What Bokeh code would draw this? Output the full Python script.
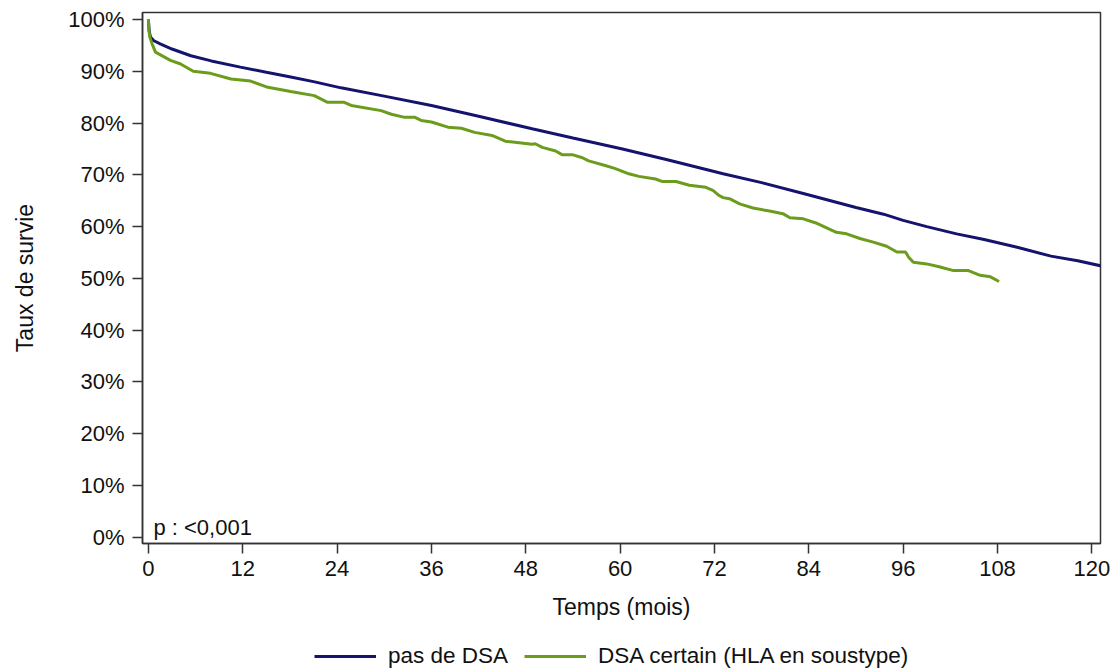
from bokeh.plotting import figure
from bokeh.layouts import column
from bokeh.models import Range1d, FixedTicker, PrintfTickFormatter, Legend, LegendItem, Label
from bokeh.embed import file_html
from bokeh.resources import INLINE

# Survival data (months, %)
blue_t = [0, 0.1, 0.26, 0.7, 1.5, 3, 5.4, 8, 11.7, 15, 18.1, 21, 24.5, 30, 36, 42, 48.8, 54, 60.3, 66, 73.1,
          78, 83.3, 90, 93.5, 96, 99, 102.8, 106.3, 110.5, 114.8, 118.2, 121.2]
blue_s = [100, 97.8, 96.6, 95.9, 95.3, 94.3, 93.0, 92.0, 90.8, 89.8, 88.9, 88.0, 86.8, 85.2, 83.4, 81.3, 78.9, 77.1, 75.0, 72.9, 70.2,
          68.5, 66.4, 63.7, 62.4, 61.2, 60.0, 58.6, 57.5, 56.0, 54.3, 53.4, 52.4]

green_t = [0, 0.05, 0.2, 0.47, 0.9, 2.8, 4.1, 5.7, 7.9, 10.5, 13.0, 15.2, 18.1, 21.1, 22.8, 24.9, 25.8, 29.6, 30.9,
           32.6, 33.9, 34.7, 36.0, 38.1, 39.8, 41.5, 43.7, 45.4, 46.6, 48.8, 49.2, 50.1, 51.8, 52.6, 53.9, 55.2,
           56.0, 58.1, 59.4, 61.1, 62.4, 64.5, 65.4, 67.1, 68.8, 70.9, 71.8, 72.6, 73.1, 73.9, 75.2, 76.9, 79.0,
           80.7, 81.6, 83.3, 84.9, 86.2, 87.5, 88.8, 90.5, 92.2, 93.9, 95.2, 96.3, 96.7, 97.3, 99.0, 100.7,
           102.4, 104.3, 105.8, 107.1, 108.2]
green_s = [100, 98.0, 96.5, 95.3, 93.7, 92.1, 91.4, 90.0, 89.6, 88.5, 88.1, 86.9, 86.1, 85.3, 84.0, 84.0, 83.4, 82.4, 81.7,
           81.1, 81.1, 80.5, 80.2, 79.2, 79.0, 78.2, 77.6, 76.5, 76.3, 75.9, 76.0, 75.3, 74.6, 73.9, 73.9, 73.3,
           72.7, 71.8, 71.2, 70.2, 69.7, 69.2, 68.7, 68.7, 68.0, 67.6, 67.0, 66.0, 65.6, 65.4, 64.4, 63.6, 63.0,
           62.5, 61.7, 61.5, 60.7, 59.8, 58.9, 58.6, 57.7, 57.0, 56.2, 55.1, 55.1, 54.1, 53.1, 52.8, 52.2,
           51.5, 51.5, 50.6, 50.3, 49.4]

x_ticks = [0, 12, 24, 36, 48, 60, 72, 84, 96, 108, 120]
y_ticks = [0, 10, 20, 30, 40, 50, 60, 70, 80, 90, 100]
series_names = ["pas de DSA", "DSA certain (HLA en soustype)"]
p_text = "p : <0,001"

FONT = "Liberation Sans"
BLUE = "#14146e"
GREEN = "#6c9c1c"
TXT = "#111111"

p = figure(width=1118, height=630, output_backend="svg", toolbar_location=None,
           x_range=Range1d(-0.75, 121.1), y_range=Range1d(-1.2, 101.35),
           min_border_left=142, min_border_right=18, min_border_top=12, min_border_bottom=87)

p.xgrid.visible = False
p.ygrid.visible = False
p.outline_line_color = "#333333"
p.outline_line_width = 1.5

for ax in (p.xaxis[0], p.yaxis[0]):
    ax.axis_line_color = "#333333"
    ax.axis_line_width = 1.5
    ax.major_tick_line_color = "#333333"
    ax.major_tick_line_width = 1.5
    ax.major_tick_in = 0
    ax.major_tick_out = 10
    ax.minor_tick_line_color = None
    ax.major_label_text_font = FONT
    ax.major_label_text_font_size = "22px"
    ax.major_label_text_color = TXT
    ax.axis_label_text_font = FONT
    ax.axis_label_text_font_size = "23px"
    ax.axis_label_text_font_style = "normal"
    ax.axis_label_text_color = TXT

p.xaxis.ticker = FixedTicker(ticks=x_ticks)
p.yaxis.ticker = FixedTicker(ticks=y_ticks)
p.yaxis.formatter = PrintfTickFormatter(format="%d%%")
p.xaxis.axis_label = "Temps (mois)"
p.yaxis.axis_label = "Taux de survie"
p.xaxis.major_label_standoff = 7
p.xaxis.axis_label_standoff = 15
p.yaxis.major_label_standoff = 8
p.yaxis.axis_label_standoff = 27

r1 = p.line(blue_t, blue_s, line_color=BLUE, line_width=3)
r2 = p.line(green_t, green_s, line_color=GREEN, line_width=3)

lab = Label(x=0.64, y=1.9, text=p_text, text_font=FONT, text_font_size="22px",
            text_color=TXT, text_baseline="alphabetic")
p.add_layout(lab)

# Legend strip below the chart (series re-plotted outside its visible range, only the legend shows)
p2 = figure(width=1118, height=40, output_backend="svg", toolbar_location=None,
            x_range=Range1d(-0.75, 121.1), y_range=Range1d(1000, 1001),
            min_border_left=0, min_border_right=0, min_border_top=0, min_border_bottom=0)
p2.axis.visible = False
p2.grid.visible = False
p2.outline_line_color = None
l1 = p2.line(blue_t, blue_s, line_color=BLUE, line_width=3)
l2 = p2.line(green_t, green_s, line_color=GREEN, line_width=3)
legend = Legend(items=[LegendItem(label=series_names[0], renderers=[l1]),
                       LegendItem(label=series_names[1], renderers=[l2])],
                orientation="horizontal", location=(172, 1),
                label_text_font=FONT, label_text_font_size="22.5px", label_text_color=TXT,
                glyph_width=62, glyph_height=20, spacing=16, label_standoff=12,
                border_line_color=None, background_fill_alpha=0, padding=0, margin=0)
p2.add_layout(legend, "center")

open("out.html", "w").write(file_html(column(p, p2, spacing=0), INLINE))
